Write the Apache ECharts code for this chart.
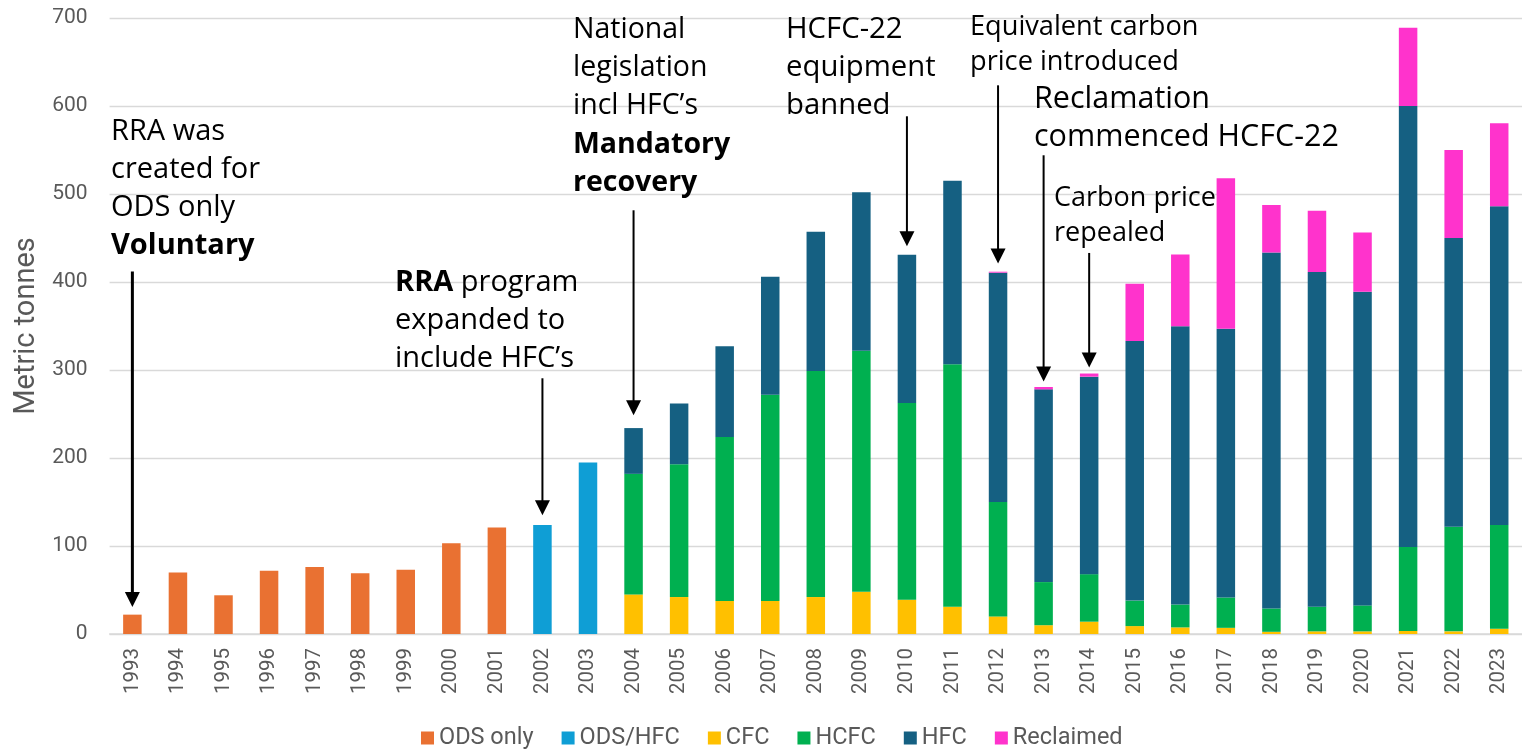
<!DOCTYPE html>
<html>
<head>
<meta charset="utf-8">
<script src="https://cdn.jsdelivr.net/npm/echarts@6/dist/echarts.min.js"></script>
<style>
html,body{margin:0;padding:0;background:#fff;}
#chart{width:1522px;height:751px;}
</style>
</head>
<body>
<div id="chart"></div>
<script>
// ---------- DATA ----------
const years = ['1993','1994','1995','1996','1997','1998','1999','2000','2001','2002','2003','2004','2005','2006','2007','2008','2009','2010','2011','2012','2013','2014','2015','2016','2017','2018','2019','2020','2021','2022','2023'];
const odsOnly = [22,70,44,72,76,69,73,103,121,null,null,null,null,null,null,null,null,null,null,null,null,null,null,null,null,null,null,null,null,null,null];
const odsHfc  = [null,null,null,null,null,null,null,null,null,124,195,null,null,null,null,null,null,null,null,null,null,null,null,null,null,null,null,null,null,null,null];
const cfc     = [null,null,null,null,null,null,null,null,null,null,null,45,42,37.5,37.5,42,48,39,31,20,10,14,9,7.5,7,2.5,3,3,3.5,3,6];
const hcfc    = [null,null,null,null,null,null,null,null,null,null,null,137,151,186.5,234.5,257,274,223.5,275.5,130,49,54,29,26,34.5,26.5,28,29.5,95.5,119,118];
const hfc     = [null,null,null,null,null,null,null,null,null,null,null,52,69,103,134,158,180,168.5,208.5,260.6,219,224.4,295,316.3,305.5,404.5,380.5,356.3,501,328,362];
const reclaimed = [null,null,null,null,null,null,null,null,null,null,null,null,null,null,null,null,null,null,null,1.1,2.7,3.6,65,81.5,171,54,69.5,67.5,89,100,94.5];
const yTicks = [0,100,200,300,400,500,600,700];

// annotation arrows (category, start value, tip value)
const arrowYears = ['1993','2002','2004','2010','2012','2013','2014'];
const arrowFrom  = [412, 290.6, 481.5, 588.3, 623.5, 544, 433];
const arrowTo    = [30.7, 135, 248.5, 440.6, 421, 287, 302.7];
const arrowWidth = [3, 2, 2, 2, 2, 2, 2];

// annotation texts: lines, left x, first baseline, line step, font size
const notes = [
  {lines:['RRA was','created for','ODS only','{b|Voluntary}'], x:111, y:142, step:38, fs:29},
  {lines:['{b|RRA} program','expanded to','include HFC\u2019s'], x:395, y:293, step:38, fs:29},
  {lines:['National','legislation','incl HFC\u2019s','{b|Mandatory}','{b|recovery}'], x:573, y:40, step:38.3, fs:28.5},
  {lines:['HCFC-22','equipment','banned'], x:786, y:40, step:38.3, fs:29.3},
  {lines:['Equivalent carbon','price introduced'], x:970, y:36.7, step:35, fs:27.2},
  {lines:['Reclamation','commenced HCFC-22'], x:1034, y:110, step:38.3, fs:30.5},
  {lines:['Carbon price','repealed'], x:1054, y:208.3, step:35, fs:27}
];

const colors = {ods:'#E97132', odshfc:'#0F9ED5', cfc:'#FFC000', hcfc:'#00B050', hfc:'#156082', rec:'#FF33CC'};
const narrow = "'Liberation Sans Narrow', 'Arial Narrow', Roboto, sans-serif";
const annoFont = "'Open Sans', 'Noto Sans', sans-serif";

const chart = echarts.init(document.getElementById('chart'), null, {renderer:'canvas'});

function barSeries(name, data, color){
  return {name, type:'bar', stack:'total', data, barWidth:18.5,
    itemStyle:{color}, emphasis:{disabled:true}};
}

chart.setOption({
  animation:false,
  backgroundColor:'#ffffff',
  grid:{left:109.6, top:18, width:1416.7, height:616, containLabel:false},
  legend:{
    top:721, left:416, icon:'rect', itemWidth:13, itemHeight:13, itemGap:28,
    textStyle:{color:'#595959', fontSize:23.5, fontFamily:narrow},
    data:['ODS only','ODS/HFC','CFC','HCFC','HFC','Reclaimed']
  },
  xAxis:{
    type:'category', data:years,
    axisLine:{lineStyle:{color:'#d9d9d9', width:1.5}},
    axisTick:{show:false},
    axisLabel:{rotate:90, color:'#595959', fontSize:20.5, fontFamily:narrow, margin:14, interval:0}
  },
  yAxis:{
    type:'value', min:0, max:700, interval:100,
    name:'Metric tonnes', nameLocation:'middle', nameGap:63,
    nameTextStyle:{color:'#595959', fontSize:29, fontFamily:"Roboto, 'Open Sans', sans-serif"},
    axisLine:{show:false}, axisTick:{show:false},
    splitLine:{lineStyle:{color:'#d9d9d9', width:1.3}},
    axisLabel:{color:'#595959', fontSize:21, fontFamily:narrow, margin:22,
      customValues: yTicks}
  },
  series:[
    barSeries('ODS only', odsOnly, colors.ods),
    barSeries('ODS/HFC', odsHfc, colors.odshfc),
    barSeries('CFC', cfc, colors.cfc),
    barSeries('HCFC', hcfc, colors.hcfc),
    barSeries('HFC', hfc, colors.hfc),
    barSeries('Reclaimed', reclaimed, colors.rec)
  ]
});

// ---------- annotations ----------
const g = [];
arrowYears.forEach((yr, i) => {
  const p0 = chart.convertToPixel({gridIndex:0}, [yr, arrowFrom[i]]);
  const p1 = chart.convertToPixel({gridIndex:0}, [yr, arrowTo[i]]);
  const head = 15, half = 7.5;
  g.push({type:'line', silent:true, z:50,
    shape:{x1:p0[0], y1:p0[1], x2:p1[0], y2:p1[1]-head+1},
    style:{stroke:'#000', lineWidth:arrowWidth[i]}});
  g.push({type:'polygon', silent:true, z:50,
    shape:{points:[[p1[0]-half, p1[1]-head],[p1[0]+half, p1[1]-head],[p1[0], p1[1]]]},
    style:{fill:'#000'}});
});
notes.forEach(n => {
  n.lines.forEach((ln, j) => {
    g.push({type:'text', silent:true, z:50,
      style:{
        x:n.x, y:n.y + j*n.step - 0.36*n.fs,
        text:ln, fill:'#000', fontSize:n.fs, fontFamily:annoFont,
        verticalAlign:'middle', align:'left',
        rich:{b:{fontWeight:'bold', fontSize:n.fs, fontFamily:annoFont, fill:'#000'}}
      }});
  });
});
chart.setOption({graphic:{elements:g}});
</script>
</body>
</html>
